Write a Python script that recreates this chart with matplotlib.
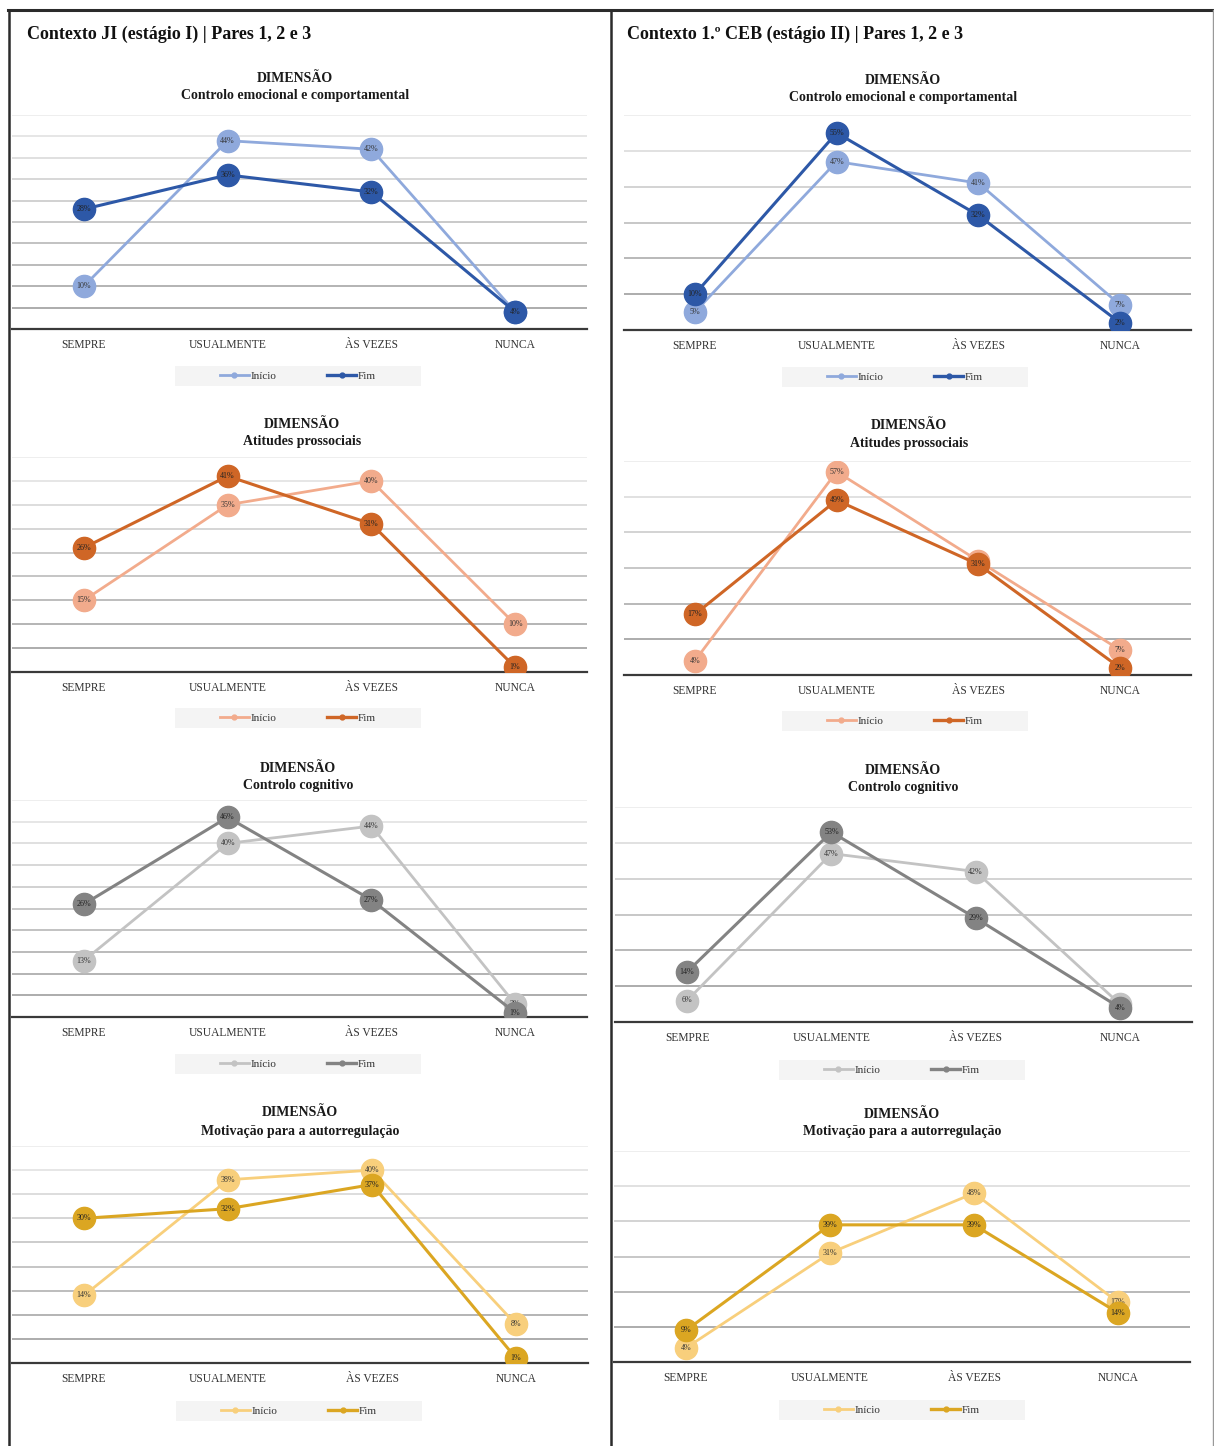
import matplotlib
matplotlib.use("Agg")
import matplotlib.pyplot as plt
from matplotlib.lines import Line2D
from matplotlib.patches import Rectangle

plt.rcParams["font.family"] = ["Liberation Serif", "DejaVu Serif"]

# categorias e valores (%)
categorias = ["SEMPRE", "USUALMENTE", "ÀS VEZES", "NUNCA"]
series_nomes = ["Início", "Fim"]

cabecalho_ji = "Contexto JI (estágio I) | Pares 1, 2 e 3"
cabecalho_ceb = "Contexto 1.º CEB (estágio II) | Pares 1, 2 e 3"

dimensoes = ["Controlo emocional e comportamental", "Atitudes prossociais",
             "Controlo cognitivo", "Motivação para a autorregulação"]

ji_emocional_inicio = [10, 44, 42, 4]
ji_emocional_fim = [28, 36, 32, 4]
ji_prossociais_inicio = [15, 35, 40, 10]
ji_prossociais_fim = [26, 41, 31, 1]
ji_cognitivo_inicio = [13, 40, 44, 3]
ji_cognitivo_fim = [26, 46, 27, 1]
ji_motivacao_inicio = [14, 38, 40, 8]
ji_motivacao_fim = [30, 32, 37, 1]

ceb_emocional_inicio = [5, 47, 41, 7]
ceb_emocional_fim = [10, 55, 32, 2]
ceb_prossociais_inicio = [4, 57, 32, 7]
ceb_prossociais_fim = [17, 49, 31, 2]
ceb_cognitivo_inicio = [6, 47, 42, 5]
ceb_cognitivo_fim = [14, 53, 29, 4]
ceb_motivacao_inicio = [4, 31, 48, 17]
ceb_motivacao_fim = [9, 39, 39, 14]

# cores (início, fim) de cada dimensão
cores = [("#8fa9dc", "#2d58a7"),
         ("#f2ab8c", "#cf6626"),
         ("#c3c3c3", "#838383"),
         ("#f8cf7c", "#dba622")]

W, H = 1214, 1446
fig = plt.figure(figsize=(W / 100, H / 100), dpi=100)


def caixa(x0, x1, ytopo, ybase):
    return [x0 / W, 1 - ybase / H, (x1 - x0) / W, (ybase - ytopo) / H]


def grafico(pos, ymax, passo, inicio, fim, cor, dimensao, titulo_xy, legenda_xy):
    ax = fig.add_axes(caixa(*pos))
    ax.set_xlim(-0.5, 3.5)
    ax.set_ylim(0, ymax)
    for s in ["top", "right", "left"]:
        ax.spines[s].set_visible(False)
    ax.spines["bottom"].set_color("#3a3a3a")
    ax.spines["bottom"].set_linewidth(1.6)
    ax.set_yticks([])

    # linhas de grelha, mais escuras em baixo
    niveis = list(range(passo, ymax + 1, passo))
    n = len(niveis)
    for k, y in enumerate(niveis):
        t = k / max(n - 1, 1)
        g = 0.62 + 0.3 * t
        ax.axhline(y, color=(g, g, g), lw=1.2, zorder=0)

    x = range(len(categorias))
    ax.plot(x, inicio, color=cor[0], lw=2.0, marker="o", ms=16,
            mec=cor[0], mfc=cor[0], zorder=3)
    for i, v in enumerate(inicio):
        ax.text(i, v, f"{v}%", ha="center", va="center", fontsize=5.8,
                color="#333333", zorder=4)
    ax.plot(x, fim, color=cor[1], lw=2.2, marker="o", ms=16,
            mec=cor[1], mfc=cor[1], zorder=5)
    for i, v in enumerate(fim):
        ax.text(i, v, f"{v}%", ha="center", va="center", fontsize=5.8,
                color="#222222", zorder=6)

    ax.set_xticks(list(x))
    ax.set_xticklabels(categorias, fontsize=8.3, color="#333333")
    ax.tick_params(axis="x", length=0, pad=7)

    tx, ty = titulo_xy
    fig.text(tx / W, 1 - ty / H, "DIMENSÃO", ha="center", va="center",
             fontsize=10, fontweight="bold", color="#1a1a1a")
    fig.text(tx / W, 1 - (ty + 18) / H, dimensao, ha="center", va="center",
             fontsize=10, fontweight="bold", color="#1a1a1a")

    # legenda com fundo cinzento claro
    lx, ly = legenda_xy
    fig.add_artist(Rectangle(((lx - 123) / W, 1 - (ly + 10) / H), 246 / W, 20 / H,
                             transform=fig.transFigure, facecolor="#f4f4f4",
                             edgecolor="none", zorder=0))
    handles = [Line2D([0], [0], color=cor[0], lw=2, marker="o", ms=3.5),
               Line2D([0], [0], color=cor[1], lw=2.4, marker="o", ms=3.5)]
    ax.legend(handles, series_nomes, loc="center", ncol=2, frameon=False,
              bbox_to_anchor=(lx / W, 1 - ly / H), bbox_transform=fig.transFigure,
              fontsize=8, handlelength=2.6, handletextpad=0.15, columnspacing=4.6,
              labelcolor="#333333")
    return ax


# coluna JI
grafico((12, 587, 115, 329), 50, 5, ji_emocional_inicio, ji_emocional_fim, cores[0],
        dimensoes[0], (295, 78), (298, 376))
grafico((12, 587, 457, 672), 45, 5, ji_prossociais_inicio, ji_prossociais_fim, cores[1],
        dimensoes[1], (302, 424), (298, 718))
grafico((12, 587, 800, 1017), 50, 5, ji_cognitivo_inicio, ji_cognitivo_fim, cores[2],
        dimensoes[2], (298, 768), (298, 1064))
grafico((12, 588, 1146, 1363), 45, 5, ji_motivacao_inicio, ji_motivacao_fim, cores[3],
        dimensoes[3], (300, 1113), (299, 1411))

# coluna 1.º CEB
grafico((624, 1191, 115, 330), 60, 10, ceb_emocional_inicio, ceb_emocional_fim, cores[0],
        dimensoes[0], (903, 80), (905, 377))
grafico((624, 1191, 461, 675), 60, 10, ceb_prossociais_inicio, ceb_prossociais_fim, cores[1],
        dimensoes[1], (909, 425), (905, 721))
grafico((615, 1192, 807, 1022), 60, 10, ceb_cognitivo_inicio, ceb_cognitivo_fim, cores[2],
        dimensoes[2], (903, 770), (902, 1070))
grafico((614, 1190, 1151, 1362), 60, 10, ceb_motivacao_inicio, ceb_motivacao_fim, cores[3],
        dimensoes[3], (902, 1114), (902, 1410))

# cabeçalhos
fig.text(27 / W, 1 - 34 / H, cabecalho_ji, ha="left", va="center",
         fontsize=13, fontweight="bold", color="#111111")
fig.text(627 / W, 1 - 34 / H, cabecalho_ceb, ha="left", va="center",
         fontsize=13, fontweight="bold", color="#111111")

# molduras
def linha(x0, y0, x1, y1, cor="#2b2b2b", lw=2.0):
    fig.add_artist(Line2D([x0 / W, x1 / W], [1 - y0 / H, 1 - y1 / H],
                          transform=fig.transFigure, color=cor, lw=lw))

linha(8, 10, W, 10, lw=2.2)
linha(9, 10, 9, H, lw=1.8)
linha(611, 10, 611, H, lw=1.8)
linha(1213, 10, 1213, H, cor="#999999", lw=1.0)

fig.savefig("out.png", dpi=100, facecolor="white")
